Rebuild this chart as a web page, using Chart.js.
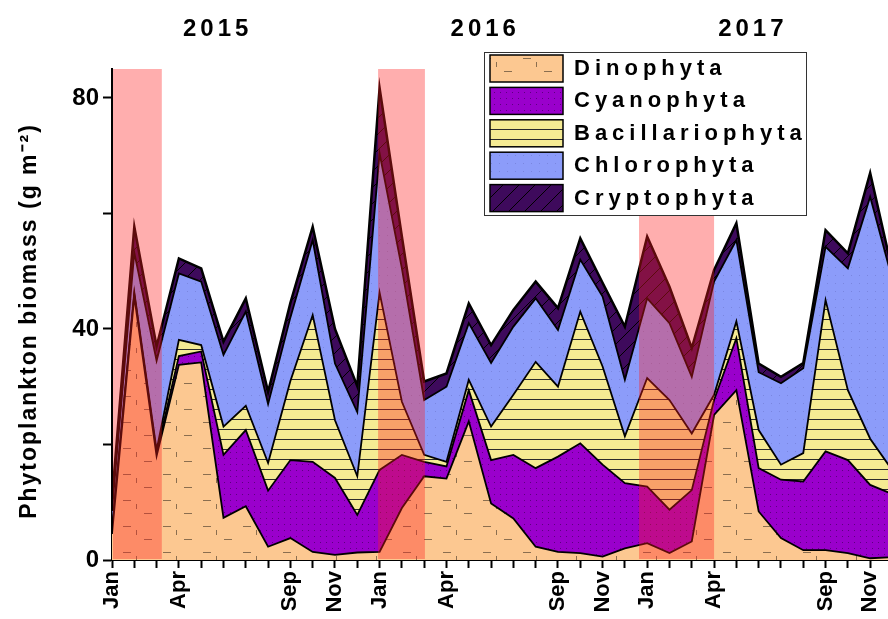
<!DOCTYPE html>
<html>
<head>
<meta charset="utf-8">
<title>Phytoplankton biomass</title>
<script src="https://cdn.jsdelivr.net/npm/chart.js@4.4.1/dist/chart.umd.min.js"></script>
<style>
  html, body { margin: 0; padding: 0; background: #fff; }
  #wrap { width: 888px; height: 619px; }
</style>
</head>
<body>
<div id="wrap"><canvas id="chart" width="888" height="619"></canvas></div>
<script>
// sampling months, Jan 2015 .. Dec 2017
const sampleDates = [
  '2015-01', '2015-02', '2015-03', '2015-04', '2015-05', '2015-06',
  '2015-07', '2015-08', '2015-09', '2015-10', '2015-11', '2015-12',
  '2016-01', '2016-02', '2016-03', '2016-04', '2016-05', '2016-06',
  '2016-07', '2016-08', '2016-09', '2016-10', '2016-11', '2016-12',
  '2017-01', '2017-02', '2017-03', '2017-04', '2017-05', '2017-06',
  '2017-07', '2017-08', '2017-09', '2017-10', '2017-11', '2017-12'
];

// biomass per group, g m-2
const dinophyta = [4.5, 45.6, 18, 33.8, 34.2, 7.3, 9.3, 2.3, 3.8, 1.4, 0.9, 1.3,
  1.4, 9, 14.5, 14.1, 24, 9.8, 7.2, 2.3, 1.4, 1.2, 0.6, 2,
  2.9, 1.2, 3.2, 25.1, 29.4, 8.4, 3.8, 1.7, 1.7, 1.2, 0.3, 0.5];
const cyanophyta = [0.5, 0.4, 0.5, 1.5, 1.9, 10.9, 13.2, 9.7, 13.5, 15.6, 13.3, 6.5,
  14.2, 9.2, 2.5, 2.1, 5.4, 7.5, 11, 13.6, 16.5, 19, 15.9, 11.3,
  9.8, 7.5, 8.9, 2.6, 9, 7.5, 10.1, 11.9, 17.1, 16.1, 12.7, 10.9];
const bacillariophyta = [0.5, 0.3, 0.5, 2.8, 1.1, 4.9, 4.2, 4.8, 13.7, 25.4, 10, 6.7,
  30.7, 9.2, 1.2, 0.8, 1.8, 5.8, 10.4, 18.4, 12.1, 22.8, 17, 8.1,
  18.8, 19, 9.8, 0.9, 2.9, 6.6, 2.6, 4.9, 26.2, 12.1, 8, 4.1];
const chlorophyta = [3, 6.9, 15.5, 11.5, 11, 12.4, 16.3, 10.2, 11, 13, 9.8, 11.1,
  24.1, 23.1, 9.5, 13, 9.8, 11, 11.8, 11, 9.8, 9, 12.1, 9.8,
  13.8, 13.3, 9.8, 19.6, 14.1, 10, 14.1, 14.7, 9.2, 21.1, 41.9, 33];
const cryptophyta = [2, 4.5, 2.5, 2.6, 2.3, 2.3, 2.3, 2.1, 2.5, 2.3, 6, 4.5,
  11.3, 5.5, 3.2, 2.3, 3.4, 3.1, 2.9, 2.9, 3.8, 3.7, 2.4, 9.2,
  10.7, 6.3, 5, 2, 2.9, 1.5, 1.1, 0.9, 2.9, 2.6, 4.1, 1.5];

const seriesNames = ['Dinophyta', 'Cyanophyta', 'Bacillariophyta', 'Chlorophyta', 'Cryptophyta'];
const monthTickLabels = ['Jan', '', '', 'Apr', '', '', '', '', 'Sep', '', 'Nov', ''];
const yTickLabels = [0, 40, 80];
const yearLabels = ['2015', '2016', '2017'];
const yTitle = 'Phytoplankton biomass (g m\u207B\u00B2)';
// shaded periods (start, end)
const bloomPeriods = [
  ['2015-01-01', '2015-03-08'],
  ['2015-12-29', '2016-03-02'],
  ['2016-12-20', '2017-04-01']
];

// months since Jan 2015
function toMonth(s) {
  const p = s.split('-').map(Number);
  return (p[0] - 2015) * 12 + (p[1] - 1) + (p[2] ? (p[2] - 1) / 30 : 0);
}
const monthIdx = sampleDates.map(toMonth);
const FONT = 'Arial, "Liberation Sans", sans-serif';

function makePattern(bg, w, h, draw) {
  const c = document.createElement('canvas');
  c.width = w; c.height = h;
  const g = c.getContext('2d');
  g.fillStyle = bg;
  g.fillRect(0, 0, w, h);
  draw(g);
  return g.createPattern(c, 'repeat');
}

const fills = [
  makePattern('#FCC891', 40, 26, g => {
    g.fillStyle = 'rgba(0,0,0,0.45)';
    g.fillRect(3, 6, 8, 1);
    g.fillRect(24, 19, 8, 1);
    g.fillRect(16, 10, 1, 5);
  }),
  makePattern('#9A00CC', 6, 6, g => {
    g.fillStyle = '#5C0080';
    g.fillRect(2, 2, 1, 1);
  }),
  makePattern('#F5EB93', 10, 10, g => {
    g.fillStyle = '#2a2a2a';
    g.fillRect(0, 9, 10, 1);
  }),
  makePattern('#8C9CFA', 8, 8, g => {
    g.fillStyle = '#7A86E0';
    g.fillRect(3, 3, 1, 1);
  }),
  makePattern('#3E0A5C', 16, 16, g => {
    g.strokeStyle = '#000';
    g.lineWidth = 1;
    g.beginPath();
    g.moveTo(-1, 17); g.lineTo(17, -1);
    g.stroke();
  })
];

const seriesValues = [dinophyta, cyanophyta, bacillariophyta, chlorophyta, cryptophyta];

const datasets = seriesValues.map((vals, i) => ({
  label: seriesNames[i],
  data: vals.map((v, k) => ({ x: monthIdx[k], y: v })),
  backgroundColor: fills[i],
  borderColor: '#000',
  borderWidth: i === 4 ? 2.5 : 1.8,
  pointRadius: 0,
  tension: 0,
  fill: i === 0 ? 'origin' : '-1'
}));

const overlay = {
  id: 'overlay',
  afterDatasetsDraw(chart) {
    const { ctx, chartArea, scales: { x, y } } = chart;
    ctx.save();
    ctx.fillStyle = 'rgba(255, 30, 30, 0.36)';
    bloomPeriods.forEach(([a, b]) => {
      const x0 = Math.max(x.getPixelForValue(toMonth(a)), chartArea.left + 1);
      const x1 = x.getPixelForValue(toMonth(b));
      const yTop = y.getPixelForValue(85);
      const yBot = y.getPixelForValue(0) - 1;
      ctx.fillRect(x0, yTop, x1 - x0, yBot - yTop);
    });
    ctx.restore();
  },
  afterDraw(chart) {
    const { ctx, scales: { x } } = chart;
    ctx.save();
    ctx.fillStyle = '#000';
    ctx.textAlign = 'center';
    ctx.textBaseline = 'middle';

    // y axis title
    ctx.save();
    ctx.translate(30, 321);
    ctx.rotate(-Math.PI / 2);
    ctx.font = 'bold 23px ' + FONT;
    ctx.letterSpacing = '2px';
    ctx.fillText(yTitle, 0, 0);
    ctx.restore();

    ctx.letterSpacing = '4px';
    ctx.font = 'bold 24px ' + FONT;
    yearLabels.forEach((t, i) => {
      ctx.fillText(t, x.getPixelForValue(i * 12 + 4.65) + 2, 29);
    });

    // legend
    const lx = 484, ly = 52, lw = 322, lh = 163;
    ctx.fillStyle = '#fff';
    ctx.fillRect(lx, ly, lw, lh);
    ctx.strokeStyle = '#333';
    ctx.lineWidth = 1;
    ctx.strokeRect(lx + 0.5, ly + 0.5, lw, lh);
    ctx.textAlign = 'left';
    ctx.font = 'bold 22px ' + FONT;
    ctx.letterSpacing = '5px';
    chart.data.datasets.forEach((ds, i) => {
      const top = ly + 3 + i * 32.4;
      ctx.fillStyle = ds.backgroundColor;
      ctx.fillRect(490, top, 73, 27);
      ctx.strokeStyle = '#000';
      ctx.lineWidth = 1.5;
      ctx.strokeRect(490, top, 73, 27);
      ctx.fillStyle = '#000';
      ctx.fillText(ds.label, 574, top + 14);
    });
    ctx.restore();
  }
};

new Chart(document.getElementById('chart'), {
  type: 'line',
  data: { datasets },
  plugins: [overlay],
  options: {
    responsive: false,
    animation: false,
    events: [],
    layout: { padding: { top: 69, left: 16, right: 0, bottom: 0 } },
    plugins: {
      legend: { display: false },
      tooltip: { enabled: false }
    },
    scales: {
      x: {
        type: 'linear',
        min: 0,
        max: 34.8,
        afterBuildTicks: s => {
          s.ticks = [];
          for (let m = 0; m <= Math.floor(s.max); m++) s.ticks.push({ value: m });
        },
        afterFit: s => {
          s.height = 59;
          s.paddingLeft = 0;
          s.paddingRight = 0;
        },
        ticks: {
          autoSkip: false,
          maxRotation: 90,
          minRotation: 90,
          padding: 3,
          color: '#000',
          font: { family: FONT, size: 22, weight: 'bold' },
          callback: v => monthTickLabels[((Math.round(v) % 12) + 12) % 12]
        },
        grid: { drawOnChartArea: false, drawTicks: true, tickLength: 8, tickColor: '#000', tickWidth: 2 },
        border: { display: true, color: '#000', width: 2 }
      },
      y: {
        stacked: true,
        min: 0,
        max: 85,
        afterBuildTicks: s => {
          s.ticks = [];
          for (let v = 0; v <= s.max; v += 20) s.ticks.push({ value: v });
        },
        afterFit: s => { s.width = 96; },
        ticks: {
          padding: 4,
          color: '#000',
          font: { family: FONT, size: 24, weight: 'bold' },
          callback: v => yTickLabels.includes(Math.round(v)) ? Math.round(v) : ''
        },
        grid: { drawOnChartArea: false, drawTicks: true, tickLength: 9, tickColor: '#000', tickWidth: 2 },
        border: { display: true, color: '#000', width: 2 },
        title: { display: false }
      }
    }
  }
});
</script>
</body>
</html>
